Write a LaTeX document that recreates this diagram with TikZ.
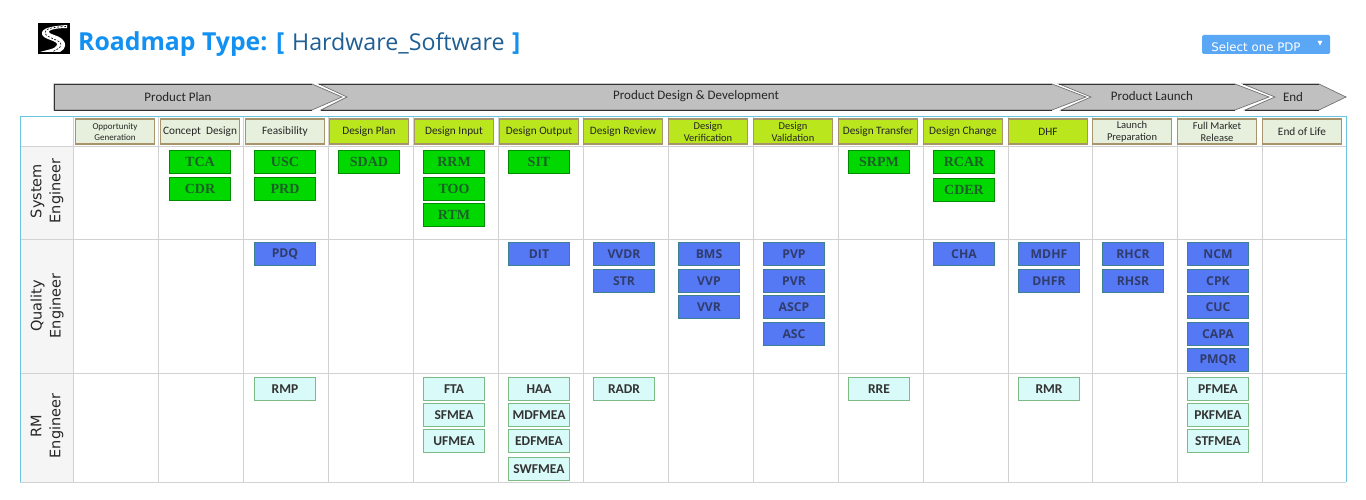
\documentclass[tikz,border=0pt]{standalone}
\usepackage{fontspec}
\setmainfont{Carlito}
\newfontfamily\labelfont{DejaVu Sans}
\newfontfamily\titlefont{Open Sans}
\newfontfamily\greenfont{Liberation Serif}
\definecolor{titleblue}{HTML}{1391F2}
\definecolor{typeblue}{HTML}{1F5F93}
\definecolor{gridgrey}{HTML}{D2D2D2}
\definecolor{framecyan}{HTML}{6CC5E0}
\definecolor{arrowgrey}{HTML}{C0C0C0}
\definecolor{paleH}{HTML}{E6F0DC}
\definecolor{limeH}{HTML}{B9E61C}
\definecolor{headborder}{HTML}{A8946A}
\definecolor{greenT}{HTML}{00D800}
\definecolor{blueT}{HTML}{5578F5}
\definecolor{cyanT}{HTML}{D8FAF8}
\definecolor{selectblue}{HTML}{5AA8F5}
\definecolor{greentext}{HTML}{1C6028}
\definecolor{bluetext}{HTML}{303C6C}
\definecolor{blueedge}{HTML}{3F8090}
\definecolor{cyanedge}{HTML}{7DBB85}
\tikzset{
  x=1pt,y=-1pt,
  phase/.style={draw=black!55,line width=.7pt,fill=arrowgrey},
  phaseline/.style={draw=black!80,line width=.9pt},
  phasetext/.style={font=\fontsize{13}{13}\selectfont,text=black!85},
  headbox/.style={draw=headborder,line width=1.1pt,minimum width=79pt,minimum height=25pt,inner sep=0pt,align=center,font=\fontsize{11.3}{12}\selectfont,text=black!85},
  hpale/.style={headbox,fill=paleH},
  hlime/.style={headbox,fill=limeH},
  task/.style={minimum width=61pt,minimum height=23pt,inner sep=0pt},
  tgreen/.style={task,fill=greenT,draw=green!55!black,line width=.5pt,text=greentext,font=\greenfont\bfseries\fontsize{14}{14}\selectfont},
  tblue/.style={task,fill=blueT,draw=blueedge,line width=.6pt,text=bluetext,font=\titlefont\bfseries\fontsize{12.2}{12.2}\selectfont},
  tcyan/.style={task,fill=cyanT,draw=cyanedge,line width=.8pt,text=black!80,font=\bfseries\fontsize{13.5}{13.5}\selectfont},
  rolelabel/.style={rotate=90,align=center,font=\labelfont\fontsize{14.5}{19}\selectfont,text=black!85},
  gridline/.style={draw=gridgrey,line width=1pt}
}
\begin{document}
\begin{tikzpicture}
\useasboundingbox (0,0) rectangle (1366,500);
\fill[white] (0,0) rectangle (1366,500);
% logo
\fill[black] (38,23) rectangle (70,54);
\fill[white] (67,25) .. controls (52,26) and (41,28) .. (42,34) .. controls (43,40) and (58,40) .. (57,45)
  .. controls (56,49) and (46,50) .. (40,52) -- (60,52) .. controls (66,49) and (67,43) .. (62,39)
  .. controls (58,35) and (47,34) .. (49,31) .. controls (51,29) and (60,28) .. (67,28) -- cycle;
\draw[black,line width=.6pt,dash pattern=on 2pt off 1.5pt] (66,26.5) .. controls (52,27) and (44,29) .. (45,33) .. controls (46,38) and (62,40) .. (61,45) .. controls (60.5,48) and (56,50) .. (52,52);
% title
\node (title) [anchor=base west,inner sep=0pt,text=titleblue,font=\titlefont\bfseries\fontsize{24.8}{25}\selectfont] at (78,51) {Roadmap Type: [};
\node (typename) [anchor=base west,inner sep=0pt,text=typeblue,font=\titlefont\fontsize{23.2}{24}\selectfont] at (292,51) {Hardware\_Software};
\node (closebr) [anchor=base west,inner sep=0pt,text=titleblue,font=\titlefont\bfseries\fontsize{24.8}{25}\selectfont] at (512,51) {]};
\node (select) [fill=selectblue,rounded corners=1.5pt,minimum width=128pt,minimum height=19pt,inner sep=0pt,text=white,font=\labelfont\fontsize{11.8}{12}\selectfont] at (1266,44.5) {\hspace{-20pt}\rule{0pt}{14pt}Select one PDP};
\node (selmark) [text=white,inner sep=0pt,font=\labelfont\fontsize{6.5}{7}\selectfont] at (1320,44) {▼};
% phases
\path[phase] (54,84) -- (312,84) -- (342,97) -- (312,110) -- (54,110) -- cycle;
\path[phase] (319,84) -- (1052,84) -- (1086,97) -- (1052,110) -- (321,110) -- (347,97) -- cycle;
\path[phase] (1059,84) -- (1235,84) -- (1269,97) -- (1235,110) -- (1061,110) -- (1091,97) -- cycle;
\path[phase] (1243,84) -- (1319,84) -- (1346,97) -- (1319,110) -- (1245,110) -- (1275,97) -- cycle;
\draw[phaseline] (312,84) -- (54,84) -- (54,110) -- (312,110);
\draw[phaseline] (319,84) -- (1052,84) (321,110) -- (1052,110);
\draw[phaseline] (1059,84) -- (1235,84) (1061,110) -- (1235,110);
\draw[phaseline] (1243,84) -- (1319,84) (1245,110) -- (1319,110);
\node (p1) [phasetext] at (178,97) {Product Plan};
\node (p2) [phasetext] at (696,96) {Product Design \& Development};
\node (p3) [phasetext] at (1152,96) {Product Launch};
\node (p4) [phasetext] at (1293,97) {End};
% grid
\fill[black!4] (20,147) rectangle (73,482);
\foreach \gx in {73,158,243,328,413,498,583,668,753,838,923,1008,1092,1177,1262}
  \draw[gridline] (\gx,117) -- (\gx,482);
\foreach \gy in {147,239,373,482}
  \draw[gridline] (20,\gy) -- (1346,\gy);
\draw[framecyan,line width=1pt] (20,482) -- (20,117) -- (1346,117) -- (1346,482);
% headers
\node (h1) [hpale,font=\fontsize{9}{11}\selectfont] at (115,131.5) {Opportunity\\Generation};
\node (h2) [hpale] at (200,131.5) {Concept\ \ Design};
\node (h3) [hpale] at (285,131.5) {Feasibility};
\node (h4) [hlime] at (369,131.5) {Design Plan};
\node (h5) [hlime] at (454,131.5) {Design Input};
\node (h6) [hlime] at (539,131.5) {Design Output};
\node (h7) [hlime] at (623,131.5) {Design Review};
\node (h8) [hlime,font=\fontsize{10.5}{12}\selectfont] at (708,131.5) {Design\\Verification};
\node (h9) [hlime,font=\fontsize{10.5}{12}\selectfont] at (793,131.5) {Design\\Validation};
\node (h10) [hlime] at (878,131.5) {Design Transfer};
\node (h11) [hlime] at (963,131.5) {Design Change};
\node (h12) [hlime] at (1048,131.5) {DHF};
\node (h13) [hpale,font=\fontsize{10.5}{12}\selectfont] at (1132,131.5) {Launch\\Preparation};
\node (h14) [hpale,font=\fontsize{10.5}{12}\selectfont] at (1217,131.5) {Full Market\\Release};
\node (h15) [hpale] at (1302,131.5) {End of Life};
% roles
\node (r1) [rolelabel] at (47,191) {System\\Engineer};
\node (r2) [rolelabel] at (47,306) {Quality\\Engineer};
\node (r3) [rolelabel] at (47,426) {RM\\Engineer};
% system engineer
\foreach \tx/\ty/\tl in {200/162/TCA,200/189/CDR,285/162/USC,285/189/PRD,369/162/SDAD,454/162/RRM,454/189/TOO,454/215/RTM,539/162/SIT,879/162/SRPM,964/162/RCAR,964/190/CDER}
  \node (s\tl) [tgreen] at (\tx,\ty) {\tl};
% quality engineer
\foreach \tx/\ty/\tl in {285/254/PDQ,539/254/DIT,624/254/VVDR,624/281/STR,709/254/BMS,709/281/VVP,709/307/VVR,794/254/PVP,794/281/PVR,794/307/ASCP,794/334/ASC,964/254/CHA,1049/254/MDHF,1049/281/DHFR,1133/254/RHCR,1133/281/RHSR,1218/254/NCM,1218/281/CPK,1218/307/CUC,1218/334/CAPA,1218/360/PMQR}
  \node (q\tl) [tblue] at (\tx,\ty) {\tl};
% rm engineer
\foreach \tx/\ty/\tl in {285/389/RMP,454/389/FTA,454/415/SFMEA,454/441/UFMEA,539/389/HAA,539/415/MDFMEA,539/441/EDFMEA,539/469/SWFMEA,624/389/RADR,879/389/RRE,1049/389/RMR,1218/389/PFMEA,1218/415/PKFMEA,1218/441/STFMEA}
  \node (m\tl) [tcyan] at (\tx,\ty) {\tl};
\end{tikzpicture}
\end{document}
